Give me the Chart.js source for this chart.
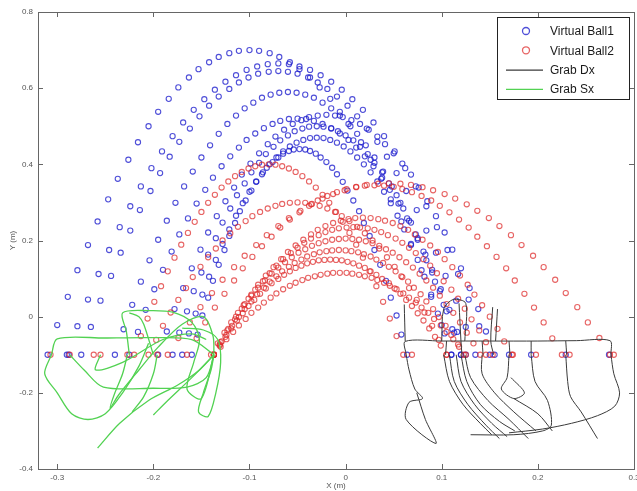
<!DOCTYPE html>
<html>
<head>
<meta charset="utf-8">
<script src="https://cdn.jsdelivr.net/npm/chart.js@4.4.0/dist/chart.umd.min.js"></script>
<style>
  html, body { margin: 0; padding: 0; background: #fff; overflow: hidden; }
  #wrap { width: 650px; height: 491px; }
</style>
</head>
<body>
<div id="wrap"><canvas id="trajChart" width="650" height="491"></canvas></div>
<script>
// series names
const seriesNames = ['Virtual Ball1', 'Virtual Ball2', 'Grab Dx', 'Grab Sx'];

// axis ticks
const xTicks = [-0.3, -0.2, -0.1, 0, 0.1, 0.2, 0.3];
const xTickLabels = ['-0.3', '-0.2', '-0.1', '0', '0.1', '0.2', '0.3'];
const yTicks = [-0.4, -0.2, 0, 0.2, 0.4, 0.6, 0.8];
const yTickLabels = ['-0.4', '-0.2', '0', '0.2', '0.4', '0.6', '0.8'];

// Virtual Ball1 - one row per throw (X, Y in m)
const ball1X = [
  [-0.31,-0.3,-0.289,-0.279,-0.268,-0.258,-0.247,-0.237,-0.226,-0.216,-0.205,-0.195,-0.184,-0.174,-0.163,-0.153,-0.142,-0.132,-0.121,-0.111,-0.1,-0.09,-0.079,-0.069,-0.058,-0.048,-0.037,-0.027,-0.016,-0.006,0.005,0.016,0.026,0.037,0.047,0.058,0.068,0.079,0.089,0.1,0.11],
  [-0.29,-0.279,-0.268,-0.257,-0.246,-0.235,-0.224,-0.213,-0.202,-0.191,-0.18,-0.169,-0.158,-0.147,-0.136,-0.125,-0.114,-0.103,-0.092,-0.081,-0.07,-0.059,-0.048,-0.037,-0.026,-0.015,-0.004,0.007,0.018,0.029,0.04,0.051,0.062,0.073,0.084,0.095,0.106,0.117,0.128,0.139,0.15],
  [-0.275,-0.265,-0.255,-0.244,-0.234,-0.224,-0.214,-0.203,-0.193,-0.183,-0.173,-0.162,-0.152,-0.142,-0.132,-0.121,-0.111,-0.101,-0.091,-0.08,-0.07,-0.06,-0.05,-0.039,-0.029,-0.019,-0.009,0.002,0.012,0.022,0.033,0.043,0.053,0.063,0.074,0.084,0.094,0.104,0.115,0.125,0.135],
  [-0.24,-0.231,-0.222,-0.213,-0.204,-0.195,-0.186,-0.177,-0.168,-0.159,-0.15,-0.141,-0.132,-0.123,-0.114,-0.105,-0.096,-0.087,-0.078,-0.069,-0.06,-0.051,-0.042,-0.033,-0.024,-0.015,-0.006,0.003,0.012,0.021,0.03,0.039,0.048,0.057,0.066,0.075,0.084,0.093,0.102,0.111,0.12],
  [-0.225,-0.216,-0.208,-0.199,-0.19,-0.181,-0.173,-0.164,-0.155,-0.146,-0.138,-0.129,-0.12,-0.111,-0.103,-0.094,-0.085,-0.076,-0.068,-0.059,-0.05,-0.041,-0.033,-0.024,-0.015,-0.006,0.003,0.011,0.02,0.029,0.038,0.046,0.055,0.064,0.073,0.081,0.09,0.099,0.108,0.116,0.125],
  [-0.195,-0.186,-0.178,-0.169,-0.16,-0.151,-0.143,-0.134,-0.125,-0.116,-0.108,-0.099,-0.09,-0.081,-0.073,-0.064,-0.055,-0.046,-0.038,-0.029,-0.02,-0.011,-0.003,0.006,0.015,0.024,0.033,0.041,0.05,0.059,0.068,0.076,0.085,0.094,0.103,0.111,0.12,0.129,0.138,0.146,0.155],
  [-0.18,-0.173,-0.165,-0.158,-0.15,-0.143,-0.135,-0.128,-0.12,-0.113,-0.105,-0.098,-0.09,-0.083,-0.075,-0.068,-0.06,-0.053,-0.045,-0.038,-0.03,-0.023,-0.015,-0.008,0,0.008,0.015,0.023,0.03,0.038,0.045,0.053,0.06,0.068,0.075,0.083,0.09,0.098,0.105,0.113,0.12],
  [-0.17,-0.163,-0.156,-0.149,-0.142,-0.135,-0.128,-0.121,-0.114,-0.107,-0.1,-0.093,-0.086,-0.079,-0.072,-0.065,-0.058,-0.051,-0.044,-0.037,-0.03,-0.023,-0.016,-0.009,-0.002,0.005,0.012,0.019,0.026,0.033,0.04,0.047,0.054,0.061,0.068,0.075,0.082,0.089,0.096,0.103,0.11],
  [-0.16,-0.154,-0.149,-0.143,-0.138,-0.132,-0.126,-0.121,-0.115,-0.11,-0.104,-0.098,-0.093,-0.087,-0.082,-0.076,-0.07,-0.065,-0.059,-0.054,-0.048,-0.042,-0.037,-0.031,-0.026,-0.02,-0.014,-0.009,-0.003,0.002,0.008,0.014,0.019,0.025,0.03,0.036,0.042,0.047,0.053,0.058,0.064]
];
const ball1Y = [
  [-0.1,-0.022,0.052,0.122,0.188,0.25,0.308,0.362,0.412,0.458,0.5,0.538,0.572,0.602,0.628,0.65,0.668,0.682,0.692,0.698,0.7,0.698,0.692,0.682,0.668,0.65,0.628,0.602,0.572,0.538,0.5,0.458,0.412,0.362,0.308,0.25,0.188,0.122,0.052,-0.022,-0.1],
  [-0.1,-0.025,0.045,0.112,0.175,0.235,0.29,0.342,0.39,0.434,0.474,0.51,0.543,0.571,0.596,0.617,0.634,0.648,0.657,0.663,0.665,0.663,0.657,0.648,0.634,0.617,0.596,0.571,0.543,0.51,0.474,0.434,0.39,0.342,0.29,0.235,0.175,0.112,0.045,-0.025,-0.1],
  [-0.1,-0.027,0.042,0.107,0.168,0.226,0.28,0.33,0.377,0.42,0.459,0.494,0.526,0.554,0.578,0.598,0.615,0.628,0.638,0.643,0.645,0.643,0.638,0.628,0.615,0.598,0.578,0.554,0.526,0.494,0.459,0.42,0.377,0.33,0.28,0.226,0.168,0.107,0.042,-0.027,-0.1],
  [-0.1,-0.033,0.031,0.092,0.148,0.202,0.252,0.299,0.342,0.381,0.418,0.45,0.48,0.506,0.528,0.547,0.562,0.575,0.583,0.588,0.59,0.588,0.583,0.575,0.562,0.547,0.528,0.506,0.48,0.45,0.418,0.381,0.342,0.299,0.252,0.202,0.148,0.092,0.031,-0.033,-0.1],
  [-0.1,-0.04,0.018,0.072,0.123,0.171,0.216,0.258,0.297,0.333,0.365,0.395,0.421,0.444,0.464,0.481,0.495,0.506,0.514,0.519,0.52,0.519,0.514,0.506,0.495,0.481,0.464,0.444,0.421,0.395,0.365,0.333,0.297,0.258,0.216,0.171,0.123,0.072,0.018,-0.04,-0.1],
  [-0.1,-0.039,0.02,0.075,0.127,0.176,0.221,0.264,0.303,0.339,0.373,0.402,0.429,0.453,0.473,0.491,0.506,0.516,0.524,0.528,0.53,0.528,0.524,0.516,0.506,0.491,0.473,0.453,0.429,0.402,0.373,0.339,0.303,0.264,0.221,0.176,0.127,0.075,0.02,-0.039,-0.1],
  [-0.1,-0.042,0.014,0.067,0.116,0.163,0.206,0.247,0.284,0.319,0.35,0.379,0.404,0.427,0.446,0.463,0.476,0.487,0.494,0.499,0.5,0.499,0.494,0.487,0.476,0.463,0.446,0.427,0.404,0.379,0.35,0.319,0.284,0.247,0.206,0.163,0.116,0.067,0.014,-0.042,-0.1],
  [-0.1,-0.044,0.008,0.058,0.105,0.149,0.191,0.229,0.265,0.298,0.328,0.355,0.379,0.4,0.418,0.434,0.447,0.457,0.464,0.469,0.47,0.469,0.464,0.457,0.447,0.434,0.418,0.4,0.379,0.355,0.328,0.298,0.265,0.229,0.191,0.149,0.105,0.058,0.008,-0.044,-0.1],
  [-0.1,-0.047,0.003,0.05,0.094,0.136,0.175,0.212,0.246,0.277,0.305,0.331,0.354,0.374,0.391,0.406,0.418,0.428,0.435,0.439,0.44,0.439,0.435,0.428,0.418,0.406,0.391,0.374,0.354,0.331,0.305,0.277,0.246,0.212,0.175,0.136,0.094,0.05,0.003,-0.047,-0.1]
];
const ball1RestX = [-0.288, 0.17, 0.193, 0.229, 0.274];
const ball1RestY = [-0.1, -0.1, -0.1, -0.1, -0.1];

// Virtual Ball2
const ball2X = [
  [-0.22,-0.213,-0.206,-0.199,-0.192,-0.185,-0.178,-0.171,-0.164,-0.157,-0.15,-0.143,-0.136,-0.129,-0.122,-0.115,-0.108,-0.101,-0.094,-0.087,-0.08,-0.073,-0.066,-0.059,-0.052,-0.045,-0.038,-0.031,-0.024,-0.017,-0.01,-0.003,0.004,0.011,0.018,0.025,0.032,0.039,0.046,0.053,0.06],
  [-0.185,-0.174,-0.162,-0.151,-0.139,-0.128,-0.116,-0.105,-0.093,-0.082,-0.07,-0.059,-0.047,-0.036,-0.024,-0.013,-0.001,0.011,0.022,0.034,0.045,0.057,0.068,0.08,0.091,0.103,0.114,0.126,0.137,0.149,0.16,0.172,0.183,0.195,0.206,0.218,0.229,0.241,0.252,0.264,0.275],
  [-0.165,-0.155,-0.146,-0.136,-0.126,-0.116,-0.107,-0.097,-0.087,-0.077,-0.068,-0.058,-0.048,-0.038,-0.029,-0.019,-0.009,0.001,0.011,0.02,0.03,0.04,0.05,0.059,0.069,0.079,0.089,0.098,0.108,0.118,0.128,0.137,0.147,0.157,0.167,0.176,0.186,0.196,0.206,0.215,0.225],
  [-0.137,-0.129,-0.122,-0.114,-0.106,-0.098,-0.091,-0.083,-0.075,-0.067,-0.06,-0.052,-0.044,-0.036,-0.029,-0.021,-0.013,-0.005,0.003,0.01,0.018,0.026,0.034,0.041,0.049,0.057,0.065,0.072,0.08,0.088,0.096,0.103,0.111,0.119,0.127,0.134,0.142,0.15,0.158,0.165,0.173],
  [-0.137,-0.13,-0.123,-0.115,-0.108,-0.101,-0.094,-0.086,-0.079,-0.072,-0.065,-0.057,-0.05,-0.043,-0.036,-0.028,-0.021,-0.014,-0.007,0.001,0.008,0.015,0.023,0.03,0.037,0.044,0.052,0.059,0.066,0.073,0.081,0.088,0.095,0.102,0.11,0.117,0.124,0.131,0.139,0.146,0.153],
  [-0.14,-0.133,-0.126,-0.119,-0.112,-0.105,-0.098,-0.091,-0.084,-0.077,-0.07,-0.063,-0.056,-0.049,-0.042,-0.035,-0.028,-0.021,-0.014,-0.007,0,0.007,0.014,0.021,0.028,0.035,0.042,0.049,0.056,0.063,0.07,0.077,0.084,0.091,0.098,0.105,0.112,0.119,0.126,0.133,0.14],
  [-0.137,-0.131,-0.124,-0.118,-0.111,-0.105,-0.098,-0.092,-0.085,-0.079,-0.072,-0.066,-0.059,-0.053,-0.046,-0.04,-0.033,-0.027,-0.02,-0.014,-0.007,0,0.006,0.013,0.019,0.026,0.032,0.039,0.045,0.052,0.058,0.065,0.071,0.078,0.084,0.091,0.097,0.104,0.11,0.117,0.123],
  [-0.137,-0.131,-0.125,-0.119,-0.113,-0.107,-0.101,-0.095,-0.089,-0.083,-0.077,-0.07,-0.064,-0.058,-0.052,-0.046,-0.04,-0.034,-0.028,-0.022,-0.016,-0.01,-0.004,0.002,0.008,0.014,0.02,0.026,0.032,0.038,0.045,0.051,0.057,0.063,0.069,0.075,0.081,0.087,0.093,0.099,0.105],
  [-0.137,-0.13,-0.124,-0.117,-0.111,-0.104,-0.098,-0.091,-0.085,-0.078,-0.072,-0.065,-0.058,-0.052,-0.045,-0.039,-0.032,-0.026,-0.019,-0.013,-0.006,0.001,0.007,0.014,0.02,0.027,0.033,0.04,0.046,0.053,0.06,0.066,0.073,0.079,0.086,0.092,0.099,0.105,0.112,0.118,0.125],
  [-0.205,-0.197,-0.19,-0.182,-0.174,-0.166,-0.159,-0.151,-0.143,-0.135,-0.128,-0.12,-0.112,-0.104,-0.097,-0.089,-0.081,-0.073,-0.066,-0.058,-0.05,-0.042,-0.035,-0.027,-0.019,-0.011,-0.004,0.004,0.012,0.02,0.028,0.035,0.043,0.051,0.059,0.066,0.074,0.082,0.09,0.097,0.105]
];
const ball2Y = [
  [-0.1,-0.051,-0.005,0.039,0.08,0.119,0.155,0.189,0.22,0.249,0.275,0.299,0.32,0.339,0.355,0.369,0.38,0.389,0.395,0.399,0.4,0.399,0.395,0.389,0.38,0.369,0.355,0.339,0.32,0.299,0.275,0.249,0.22,0.189,0.155,0.119,0.08,0.039,-0.005,-0.051,-0.1],
  [-0.1,-0.056,-0.015,0.025,0.062,0.097,0.13,0.16,0.188,0.214,0.238,0.259,0.278,0.295,0.31,0.322,0.332,0.34,0.346,0.349,0.35,0.349,0.346,0.34,0.332,0.322,0.31,0.295,0.278,0.259,0.238,0.214,0.188,0.16,0.13,0.097,0.062,0.025,-0.015,-0.056,-0.1],
  [-0.1,-0.057,-0.015,0.024,0.06,0.095,0.127,0.157,0.185,0.21,0.234,0.255,0.274,0.291,0.305,0.317,0.327,0.335,0.341,0.344,0.345,0.344,0.341,0.335,0.327,0.317,0.305,0.291,0.274,0.255,0.234,0.21,0.185,0.157,0.127,0.095,0.06,0.024,-0.015,-0.057,-0.1],
  [-0.1,-0.065,-0.032,0,0.03,0.058,0.084,0.108,0.13,0.151,0.17,0.187,0.202,0.216,0.228,0.238,0.246,0.252,0.256,0.259,0.26,0.259,0.256,0.252,0.246,0.238,0.228,0.216,0.202,0.187,0.17,0.151,0.13,0.108,0.084,0.058,0.03,0,-0.032,-0.065,-0.1],
  [-0.1,-0.067,-0.036,-0.007,0.021,0.047,0.071,0.093,0.114,0.134,0.151,0.167,0.181,0.194,0.205,0.214,0.222,0.228,0.232,0.234,0.235,0.234,0.232,0.228,0.222,0.214,0.205,0.194,0.181,0.167,0.151,0.134,0.114,0.093,0.071,0.047,0.021,-0.007,-0.036,-0.067,-0.1],
  [-0.1,-0.07,-0.042,-0.015,0.01,0.033,0.055,0.076,0.095,0.113,0.129,0.143,0.156,0.168,0.177,0.186,0.193,0.198,0.202,0.204,0.205,0.204,0.202,0.198,0.193,0.186,0.177,0.168,0.156,0.143,0.129,0.113,0.095,0.076,0.055,0.033,0.01,-0.015,-0.042,-0.07,-0.1],
  [-0.1,-0.073,-0.048,-0.024,-0.001,0.02,0.04,0.059,0.076,0.092,0.106,0.119,0.131,0.141,0.15,0.158,0.164,0.169,0.172,0.174,0.175,0.174,0.172,0.169,0.164,0.158,0.15,0.141,0.131,0.119,0.106,0.092,0.076,0.059,0.04,0.02,-0.001,-0.024,-0.048,-0.073,-0.1],
  [-0.1,-0.076,-0.053,-0.031,-0.01,0.009,0.028,0.044,0.06,0.074,0.088,0.099,0.11,0.119,0.128,0.134,0.14,0.144,0.148,0.149,0.15,0.149,0.148,0.144,0.14,0.134,0.128,0.119,0.11,0.099,0.088,0.074,0.06,0.044,0.028,0.009,-0.01,-0.031,-0.053,-0.076,-0.1],
  [-0.1,-0.079,-0.059,-0.04,-0.023,-0.006,0.01,0.024,0.037,0.05,0.061,0.072,0.081,0.089,0.096,0.102,0.106,0.11,0.113,0.115,0.115,0.115,0.113,0.11,0.106,0.102,0.096,0.089,0.081,0.072,0.061,0.05,0.037,0.024,0.01,-0.006,-0.023,-0.04,-0.059,-0.079,-0.1],
  [-0.1,-0.061,-0.024,0.011,0.044,0.075,0.104,0.131,0.156,0.179,0.2,0.219,0.236,0.251,0.264,0.275,0.284,0.291,0.296,0.299,0.3,0.299,0.296,0.291,0.284,0.275,0.264,0.251,0.236,0.219,0.2,0.179,0.156,0.131,0.104,0.075,0.044,0.011,-0.024,-0.061,-0.1]
];
const ball2RestX = [-0.307, -0.287, -0.262, -0.255, -0.227, -0.196, 0.069, 0.146, 0.174, 0.198, 0.233, 0.279];
const ball2RestY = [-0.1, -0.1, -0.1, -0.1, -0.1, -0.1, -0.1, -0.1, -0.1, -0.1, -0.1, -0.1];

// Grab Dx (right hand) strokes, [x, y]
const grabDx = [
  [[0.063,-0.1],[0.062,-0.065],[0.1,-0.064],[0.15,-0.064],[0.2,-0.064],[0.24,-0.063],[0.275,-0.063],[0.276,-0.1]],
  [[0.105,-0.064],[0.104,-0.1]],
  [[0.142,-0.064],[0.143,-0.1]],
  [[0.17,-0.064],[0.171,-0.1]],
  [[0.193,-0.064],[0.193,-0.1]],
  [[0.229,-0.064],[0.23,-0.1]],
  [[0.061,0.032],[0.062,-0.065]],
  [[0.118,0.035],[0.12,-0.064],[0.121,-0.1]],
  [[0.153,0.025],[0.151,-0.064],[0.154,-0.1]],
  [[0.158,0.02],[0.156,-0.064]],
  [[0.1,-0.064],[0.102,0.02],[0.112,0.045],[0.125,0.035],[0.124,-0.064]],
  [[0.063,-0.1],[0.066,-0.14],[0.072,-0.19],[0.08,-0.215],[0.066,-0.225],[0.063,-0.27],[0.094,-0.333],[0.083,-0.27],[0.074,-0.2]],
  [[0.102,-0.1],[0.108,-0.17],[0.122,-0.23],[0.14,-0.28],[0.152,-0.31]],
  [[0.108,-0.1],[0.113,-0.17],[0.127,-0.23],[0.146,-0.285],[0.16,-0.32]],
  [[0.115,-0.1],[0.12,-0.17],[0.134,-0.23],[0.152,-0.28],[0.168,-0.315]],
  [[0.12,-0.1],[0.126,-0.17],[0.14,-0.23],[0.16,-0.275],[0.176,-0.3]],
  [[0.124,-0.1],[0.13,-0.16],[0.148,-0.22],[0.17,-0.27],[0.19,-0.32]],
  [[0.142,-0.1],[0.142,-0.15],[0.155,-0.2],[0.175,-0.25],[0.198,-0.3]],
  [[0.17,-0.1],[0.168,-0.16],[0.162,-0.19],[0.175,-0.215],[0.186,-0.2],[0.172,-0.16]],
  [[0.175,-0.215],[0.2,-0.255],[0.215,-0.3]],
  [[0.193,-0.1],[0.197,-0.17],[0.21,-0.22],[0.214,-0.285],[0.205,-0.3],[0.175,-0.31],[0.13,-0.31]],
  [[0.276,-0.1],[0.279,-0.15],[0.285,-0.2],[0.28,-0.235],[0.262,-0.26],[0.235,-0.28],[0.205,-0.295],[0.17,-0.305]],
  [[0.229,-0.1],[0.231,-0.17],[0.234,-0.21],[0.245,-0.25],[0.262,-0.32]]
];

// Grab Sx (left hand) strokes
const grabSx = [
  [[-0.137,-0.1],[-0.16,-0.06],[-0.2,-0.055],[-0.25,-0.056],[-0.3,-0.058],[-0.306,-0.1],[-0.313,-0.15],[-0.3,-0.2],[-0.285,-0.255],[-0.268,-0.27],[-0.25,-0.255],[-0.232,-0.2],[-0.215,-0.13],[-0.205,-0.07]],
  [[-0.225,-0.1],[-0.228,-0.04],[-0.232,0.01],[-0.205,0.016],[-0.18,0.012],[-0.16,-0.015],[-0.152,-0.06],[-0.158,-0.12],[-0.165,-0.19],[-0.15,-0.215],[-0.137,-0.1]],
  [[-0.287,-0.1],[-0.272,-0.14],[-0.252,-0.185],[-0.2,-0.188],[-0.165,-0.185],[-0.145,-0.16],[-0.137,-0.1]],
  [[-0.137,-0.1],[-0.152,-0.14],[-0.175,-0.18],[-0.205,-0.22],[-0.235,-0.28],[-0.258,-0.345]],
  [[-0.227,-0.1],[-0.232,-0.15],[-0.24,-0.2],[-0.245,-0.24],[-0.236,-0.205],[-0.215,-0.14],[-0.195,-0.08],[-0.17,-0.02],[-0.148,0],[-0.138,-0.05],[-0.137,-0.1]],
  [[-0.137,-0.1],[-0.14,-0.14],[-0.148,-0.2],[-0.153,-0.25],[-0.143,-0.262],[-0.135,-0.2],[-0.13,-0.12],[-0.133,-0.06],[-0.148,-0.035],[-0.17,-0.03]],
  [[-0.196,-0.1],[-0.2,-0.15],[-0.21,-0.21],[-0.222,-0.25]],
  [[-0.137,-0.1],[-0.16,-0.16],[-0.185,-0.22],[-0.2,-0.258]],
  [[-0.255,-0.1],[-0.26,-0.14],[-0.232,-0.12],[-0.19,-0.06],[-0.16,-0.045],[-0.145,-0.06]],
  [[-0.2,-0.1],[-0.21,-0.02],[-0.215,0],[-0.225,0.01]]
];

const blueC = 'rgba(30,30,205,0.78)';
const redC = 'rgba(222,40,40,0.72)';
const blackC = '#3a3a3a';
const greenC = 'rgb(82,210,82)';

function arcPoints(xs, ys) {
  return xs.flatMap((row, j) => row.map((v, i) => ({ x: v, y: ys[j][i] })));
}
function restPoints(xs, ys) {
  return xs.map((v, i) => ({ x: v, y: ys[i] }));
}
function strokePoints(s) {
  return s.map(p => ({ x: p[0], y: p[1] }));
}

const ballStyle = (color, order) => ({
  showLine: false, pointRadius: 2.6, pointBorderWidth: 1.1,
  pointBorderColor: color, pointBackgroundColor: 'rgba(0,0,0,0)', order: order
});
const lineStyle = (color, width, order) => ({
  showLine: true, borderColor: color, borderWidth: width, pointRadius: 0,
  tension: 0.3, fill: false, order: order
});

const datasets = [
  Object.assign({ label: seriesNames[0], data: arcPoints(ball1X, ball1Y).concat(restPoints(ball1RestX, ball1RestY)) }, ballStyle(blueC, 3)),
  Object.assign({ label: seriesNames[1], data: arcPoints(ball2X, ball2Y).concat(restPoints(ball2RestX, ball2RestY)) }, ballStyle(redC, 2)),
  ...grabDx.map(s => Object.assign({ label: seriesNames[2], data: strokePoints(s) }, lineStyle(blackC, 1, 1))),
  ...grabSx.map(s => Object.assign({ label: seriesNames[3], data: strokePoints(s) }, lineStyle(greenC, 1.3, 0)))
];

// box + inward tick marks, matlab style
const frame = {
  id: 'frame',
  afterDatasetsDraw(chart) {
    const { ctx, chartArea: a, scales } = chart;
    ctx.save();
    ctx.strokeStyle = '#666';
    ctx.lineWidth = 1;
    ctx.beginPath();
    xTicks.forEach(v => {
      const px = Math.round(scales.x.getPixelForValue(v)) + 0.5;
      ctx.moveTo(px, a.bottom); ctx.lineTo(px, a.bottom - 5);
      ctx.moveTo(px, a.top); ctx.lineTo(px, a.top + 5);
    });
    yTicks.forEach(v => {
      const py = Math.round(scales.y.getPixelForValue(v)) + 0.5;
      ctx.moveTo(a.left, py); ctx.lineTo(a.left + 5, py);
      ctx.moveTo(a.right, py); ctx.lineTo(a.right - 5, py);
    });
    ctx.stroke();
    ctx.strokeRect(Math.round(a.left) + 0.5, Math.round(a.top) + 0.5, Math.round(a.right - a.left), Math.round(a.bottom - a.top));
    ctx.restore();
  }
};

// legend box in the upper right corner
const legendBox = {
  id: 'legendBox',
  afterDraw(chart) {
    const { ctx, chartArea: a } = chart;
    const bx = a.right - 137, by = a.top + 5, bw = 132, bh = 82;
    ctx.save();
    ctx.fillStyle = '#fff';
    ctx.fillRect(bx, by, bw, bh);
    ctx.strokeStyle = '#222';
    ctx.lineWidth = 1;
    ctx.strokeRect(bx + 0.5, by + 0.5, bw, bh);
    ctx.font = '12px "Liberation Sans", Arial, sans-serif';
    ctx.textBaseline = 'middle';
    const colors = [blueC, redC, blackC, greenC];
    seriesNames.forEach((name, i) => {
      const cy = by + 14 + i * 19.3;
      if (i < 2) {
        ctx.strokeStyle = colors[i];
        ctx.lineWidth = 1.3;
        ctx.beginPath();
        ctx.arc(bx + 29, cy, 3.5, 0, Math.PI * 2);
        ctx.stroke();
      } else {
        ctx.strokeStyle = colors[i];
        ctx.lineWidth = 1.2;
        ctx.beginPath();
        ctx.moveTo(bx + 9, cy + 0.5);
        ctx.lineTo(bx + 46, cy + 0.5);
        ctx.stroke();
      }
      ctx.fillStyle = '#1a1a1a';
      ctx.fillText(name, bx + 53, cy + 1);
    });
    ctx.restore();
  }
};

new Chart(document.getElementById('trajChart').getContext('2d'), {
  type: 'scatter',
  data: { datasets: datasets },
  options: {
    responsive: false,
    animation: false,
    devicePixelRatio: 1,
    layout: { padding: { left: 0, top: 12, right: 16, bottom: 0 } },
    plugins: { legend: { display: false }, tooltip: { enabled: false } },
    scales: {
      x: {
        type: 'linear', min: -0.32, max: 0.3,
        afterBuildTicks: s => { s.ticks = xTicks.map(v => ({ value: v })); },
        afterFit: s => { s.height = 22; },
        ticks: {
          font: { size: 8, family: 'Arial, "Liberation Sans"' }, color: '#555', padding: 4, maxRotation: 0,
          callback: (v) => xTickLabels[xTicks.indexOf(Math.round(v * 10) / 10)]
        },
        grid: { display: false, drawTicks: false },
        border: { display: false },
        title: { display: true, text: 'X (m)', font: { size: 8, family: 'Arial, "Liberation Sans"' }, color: '#555', padding: { top: 0, bottom: 0 } }
      },
      y: {
        type: 'linear', min: -0.4, max: 0.8,
        afterBuildTicks: s => { s.ticks = yTicks.map(v => ({ value: v })); },
        afterFit: s => { s.width = 38; },
        ticks: {
          font: { size: 8, family: 'Arial, "Liberation Sans"' }, color: '#555', padding: 5,
          callback: (v) => yTickLabels[yTicks.indexOf(Math.round(v * 10) / 10)]
        },
        grid: { display: false, drawTicks: false },
        border: { display: false },
        title: { display: true, text: 'Y (m)', font: { size: 8, family: 'Arial, "Liberation Sans"' }, color: '#555', padding: { top: 8, bottom: 0 } }
      }
    }
  },
  plugins: [frame, legendBox]
});
</script>
</body>
</html>
